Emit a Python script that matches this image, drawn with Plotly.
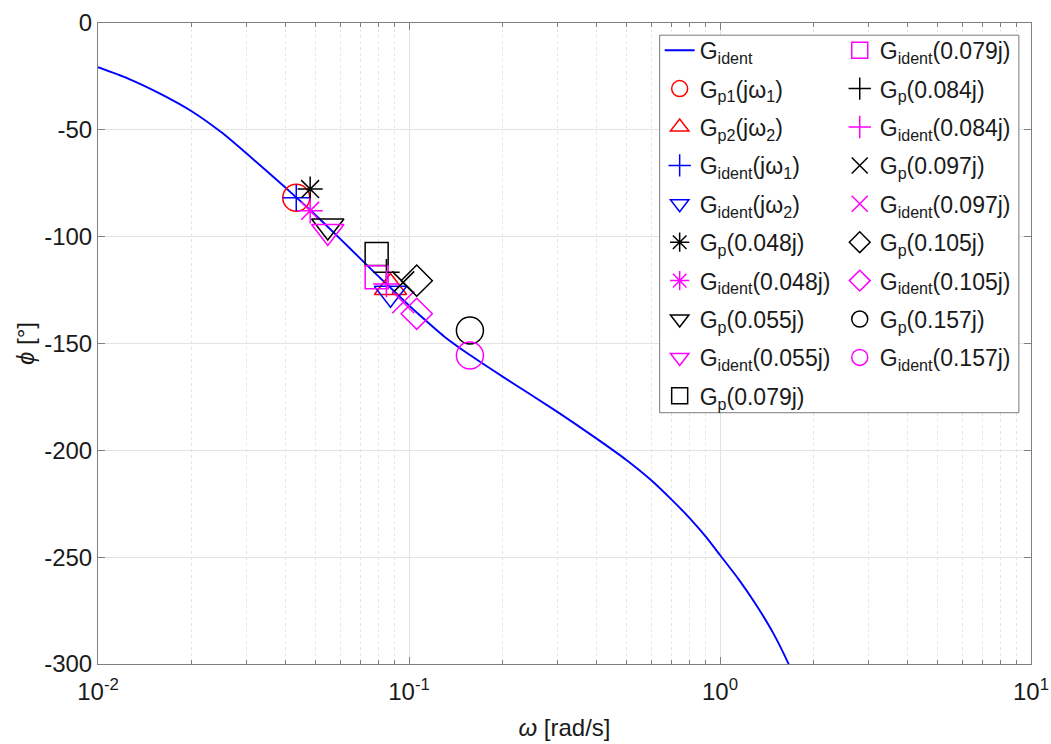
import plotly.graph_objects as go

# Identified model phase response
omega_curve = [0.01, 0.0125, 0.016, 0.02, 0.025, 0.03, 0.0369, 0.0434, 0.048,
               0.055, 0.065, 0.079, 0.084, 0.0958, 0.1004, 0.1059, 0.13, 0.157,
               0.2, 0.3, 0.4, 0.5, 0.6, 0.7, 0.8, 0.9, 1.0, 1.15, 1.3, 1.48,
               1.66, 1.72]
phase_curve = [-20.7, -26.0, -33.4, -41.3, -51.3, -61.0, -72.4, -81.6, -87.4,
               -95.6, -105.9, -118.0, -121.7, -129.6, -132.4, -135.5, -146.8,
               -155.4, -165.5, -182.0, -194.4, -204.5, -213.9, -223.2, -231.8,
               -240.4, -249.0, -260.5, -271.8, -285.3, -299.8, -305.0]

# Point estimates (legend order)
point_names = [
    "G<sub>p1</sub>(jω<sub>1</sub>)",
    "G<sub>p2</sub>(jω<sub>2</sub>)",
    "G<sub>ident</sub>(jω<sub>1</sub>)",
    "G<sub>ident</sub>(jω<sub>2</sub>)",
    "G<sub>p</sub>(0.048j)",
    "G<sub>ident</sub>(0.048j)",
    "G<sub>p</sub>(0.055j)",
    "G<sub>ident</sub>(0.055j)",
    "G<sub>p</sub>(0.079j)",
    "G<sub>ident</sub>(0.079j)",
    "G<sub>p</sub>(0.084j)",
    "G<sub>ident</sub>(0.084j)",
    "G<sub>p</sub>(0.097j)",
    "G<sub>ident</sub>(0.097j)",
    "G<sub>p</sub>(0.105j)",
    "G<sub>ident</sub>(0.105j)",
    "G<sub>p</sub>(0.157j)",
    "G<sub>ident</sub>(0.157j)",
]
point_omega = [0.0434, 0.0872, 0.0434, 0.0872, 0.0481, 0.0481, 0.0548, 0.0548,
               0.0787, 0.0787, 0.0846, 0.0846, 0.0958, 0.0958, 0.1059, 0.1059,
               0.157, 0.157]
point_phase = [-81.8, -123.8, -81.8, -126.5, -77.7, -87.9, -95.0, -97.6,
               -108.1, -119.0, -116.7, -122.1, -121.4, -130.7, -120.6, -136.1,
               -143.9, -155.6]

# Marker styling per point
point_colors = ["#ff0000", "#ff0000", "#0000ff", "#0000ff",
                "#000000", "#ff00ff", "#000000", "#ff00ff",
                "#000000", "#ff00ff", "#000000", "#ff00ff",
                "#000000", "#ff00ff", "#000000", "#ff00ff",
                "#000000", "#ff00ff"]
point_symbols = ["circle-open", "triangle-up-open", "cross-thin-open", "triangle-down-open",
                 "asterisk-open", "asterisk-open", "triangle-down-open", "triangle-down-open",
                 "square-open", "square-open", "cross-thin-open", "cross-thin-open",
                 "x-thin-open", "x-thin-open", "diamond-open", "diamond-open",
                 "circle-open", "circle-open"]
symbol_size = {"circle-open": 27, "triangle-up-open": 28, "triangle-down-open": 28,
               "cross-thin-open": 19, "asterisk-open": 21, "square-open": 23,
               "x-thin-open": 22, "diamond-open": 24}

x_tickvals = [0.01, 0.1, 1, 10]
x_ticktext = ["10<sup>-2</sup>", "10<sup>-1</sup>", "10<sup>0</sup>", "10<sup>1</sup>"]
x_minor = [k * d for d in (0.01, 0.1, 1) for k in range(2, 10)]
y_tickvals = [0, -50, -100, -150, -200, -250, -300]
y_ticktext = ["0", "-50", "-100", "-150", "-200", "-250", "-300"]

FONT = "Liberation Sans, Arial, Helvetica, sans-serif"
TEXT = "#1a1a1a"

fig = go.Figure()

# first legend column: the curve plus the first nine point traces
fig.add_trace(go.Scatter(
    x=omega_curve, y=phase_curve, mode="lines", name="G<sub>ident</sub>",
    line=dict(color="#0000ff", width=1.9, shape="spline", smoothing=0.6),
    legend="legend", legendgroup="g0",
))

for i, (name, w, p) in enumerate(zip(point_names, point_omega, point_phase)):
    sym = point_symbols[i]
    fig.add_trace(go.Scatter(
        x=[w], y=[p], mode="markers", name=name,
        marker=dict(symbol=sym, size=symbol_size[sym], color=point_colors[i],
                    line=dict(color=point_colors[i], width=1.5)),
        legend="legend" if i < 9 else "legend2",
        legendgroup="g%d" % (i + 1),
    ))

axis_common = dict(
    showline=True, linecolor="#808080", linewidth=1, mirror="ticks",
    ticks="inside", tickcolor="#808080", ticklen=7,
    tickfont=dict(family=FONT, size=24, color=TEXT),
    zeroline=False, automargin=False,
)

fig.update_xaxes(
    type="log", range=[-2, 1],
    tickvals=x_tickvals, ticktext=x_ticktext, ticklabelstandoff=6,
    showgrid=True, gridcolor="#e3e3e3", gridwidth=1,
    minor=dict(tickvals=x_minor, ticks="inside", ticklen=4, tickcolor="#808080",
               showgrid=True, gridcolor="#e6e6e6", griddash="dot", gridwidth=1),
    title=dict(text="<i>ω</i> [rad/s]", font=dict(family=FONT, size=24, color=TEXT),
               standoff=15),
    **axis_common,
)
fig.update_yaxes(
    range=[-300, 0], tickvals=y_tickvals, ticktext=y_ticktext,
    showgrid=True, gridcolor="#e3e3e3", gridwidth=1,
    title=dict(text="<i>ϕ</i> [°]", font=dict(family=FONT, size=24, color=TEXT),
               standoff=2),
    **axis_common,
)

legend_common = dict(
    orientation="v", yanchor="top", xanchor="left", y=0.991,
    bgcolor="rgba(0,0,0,0)", borderwidth=0,
    font=dict(family=FONT, size=23, color=TEXT),
    traceorder="grouped", tracegroupgap=5.5, itemwidth=30,
)

fig.update_layout(
    width=1051, height=744,
    margin=dict(l=98, r=20, t=23, b=80),
    paper_bgcolor="white", plot_bgcolor="white",
    legend=dict(x=0.602, **legend_common),
    legend2=dict(x=0.795, **legend_common),
    shapes=[dict(type="rect", xref="paper", yref="paper",
                 x0=0.602, x1=0.987, y0=0.392, y1=0.981,
                 fillcolor="white", line=dict(color="#7a7a7a", width=1),
                 layer="above")],
)

fig.write_html("out.html")
